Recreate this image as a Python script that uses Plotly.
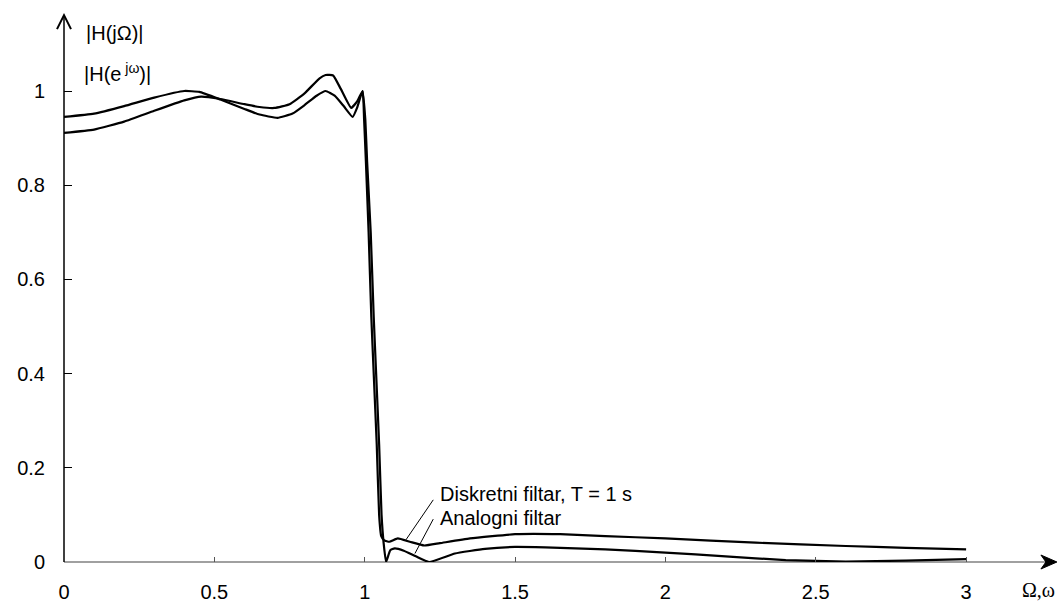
import plotly.graph_objects as go

# Analog filter (elliptic) magnitude response
omega_analog = [0.0, 0.1, 0.2, 0.3, 0.4, 0.45, 0.52, 0.6, 0.65, 0.71, 0.76, 0.8, 0.84, 0.87,
                0.9, 0.93, 0.96, 0.975, 0.993, 1.002, 1.008, 1.02, 1.03, 1.038, 1.048, 1.056,
                1.063, 1.071, 1.085, 1.1, 1.13, 1.17, 1.214, 1.3, 1.4, 1.5, 1.6, 1.8, 2.0,
                2.2, 2.4, 2.6, 2.8, 3.0]
mag_analog = [0.945, 0.952, 0.968, 0.986, 1.0, 0.998, 0.982, 0.962, 0.95, 0.943, 0.952, 0.97,
              0.99, 1.0, 0.99, 0.968, 0.945, 0.965, 1.0, 0.94, 0.85, 0.7, 0.52, 0.40, 0.25,
              0.10, 0.04, 0.0, 0.025, 0.029, 0.024, 0.012, 0.0, 0.018, 0.028, 0.032, 0.031,
              0.027, 0.02, 0.012, 0.004, 0.001, 0.003, 0.006]

# Discrete filter (T = 1 s) magnitude response
omega_discrete = [0.0, 0.1, 0.2, 0.3, 0.4, 0.456, 0.52, 0.6, 0.65, 0.70, 0.75, 0.8, 0.85,
                  0.87, 0.895, 0.92, 0.955, 0.975, 0.993, 0.998, 1.004, 1.013, 1.022, 1.03,
                  1.04, 1.048, 1.055, 1.065, 1.082, 1.11, 1.15, 1.198, 1.25, 1.35, 1.5, 1.65,
                  1.8, 2.0, 2.3, 2.6, 2.8, 3.0]
mag_discrete = [0.911, 0.918, 0.935, 0.958, 0.980, 0.988, 0.983, 0.972, 0.966, 0.964, 0.972,
                0.995, 1.027, 1.034, 1.033, 1.005, 0.964, 0.978, 1.0, 0.94, 0.85, 0.7, 0.52,
                0.40, 0.25, 0.10, 0.055, 0.046, 0.043, 0.05, 0.043, 0.035, 0.040, 0.050,
                0.059, 0.059, 0.055, 0.050, 0.041, 0.034, 0.030, 0.027]

x_ticks = [0, 0.5, 1, 1.5, 2, 2.5, 3]
x_tick_labels = ["0", "0.5", "1", "1.5", "2", "2.5", "3"]
y_ticks = [0, 0.2, 0.4, 0.6, 0.8, 1]
y_tick_labels = ["0", "0.2", "0.4", "0.6", "0.8", "1"]

FONT = "Liberation Sans, Arial, sans-serif"
SERIF = "Liberation Serif, Times New Roman, serif"
FS = 20

W, H = 1059, 603
ML, MT, MB, MR = 64, 14, 41, 0
PW, PH = W - ML - MR, H - MT - MB
XMAX = PW / 300.7
YMAX = PH / 471.0


def px(xp):  # window pixel -> paper x
    return (xp - ML) / PW


def py(yp):  # window pixel -> paper y
    return (H - MB - yp) / PH


fig = go.Figure()
fig.add_trace(go.Scatter(x=omega_discrete, y=mag_discrete, mode="lines",
                         line=dict(color="black", width=2.2, shape="spline", smoothing=0.4),
                         name="Diskretni filtar"))
fig.add_trace(go.Scatter(x=omega_analog, y=mag_analog, mode="lines",
                         line=dict(color="black", width=2.2, shape="spline", smoothing=0.4),
                         name="Analogni filtar"))

y_tip = 1.161 / YMAX
x_tip = 3.302 / XMAX
shapes = [
    # y axis line
    dict(type="line", xref="paper", yref="paper", x0=0, x1=0, y0=0, y1=y_tip,
         line=dict(color="black", width=1.5), layer="above"),
    # x axis line
    dict(type="line", xref="paper", yref="paper", x0=0, x1=x_tip - 0.005, y0=0, y1=0,
         line=dict(color="#808080", width=1.5), layer="below"),
    # y arrow head (chevron)
    dict(type="path", xref="paper", yref="paper", xsizemode="pixel", ysizemode="pixel",
         xanchor=0, yanchor=y_tip, path="M -7,-14 L 0,0 L 7,-14",
         line=dict(color="black", width=2)),
    # x arrow head (filled stealth)
    dict(type="path", xref="paper", yref="paper", xsizemode="pixel", ysizemode="pixel",
         xanchor=x_tip, yanchor=0, path="M -16,7 L 0,0 L -16,-7 L -11,0 Z",
         fillcolor="black", line=dict(color="black", width=1)),
    # leader lines
    dict(type="line", xref="x", yref="y", x0=1.228, y0=0.132, x1=1.137, y1=0.047,
         line=dict(color="black", width=1)),
    dict(type="line", xref="x", yref="y", x0=1.228, y0=0.091, x1=1.167, y1=0.018,
         line=dict(color="black", width=1)),
]

fig.update_layout(
    width=W, height=H,
    margin=dict(l=ML, r=MR, t=MT, b=MB, autoexpand=False),
    paper_bgcolor="white", plot_bgcolor="white",
    showlegend=False,
    hovermode=False,
    shapes=shapes,
    font=dict(family=FONT, size=FS, color="black"),
    xaxis=dict(range=[0, XMAX], tickvals=x_ticks, ticktext=x_tick_labels,
               ticks="inside", ticklen=5, tickcolor="#555555", tickwidth=1,
               showgrid=False, zeroline=False, showline=False,
               ticklabelstandoff=16, tickfont=dict(family=FONT, size=FS)),
    yaxis=dict(range=[0, YMAX], tickvals=y_ticks, ticktext=y_tick_labels,
               ticks="inside", ticklen=8, tickcolor="black", tickwidth=1,
               showgrid=False, zeroline=False, showline=False,
               ticklabelstandoff=18, tickfont=dict(family=FONT, size=FS)),
)

fig.add_annotation(x=px(84), y=py(33), xref="paper", yref="paper", text="|H(jΩ)|",
                   showarrow=False, xanchor="left", yanchor="middle",
                   font=dict(family=FONT, size=FS, color="black"))
fig.add_annotation(x=px(82), y=py(72), xref="paper", yref="paper",
                   text="|H(e<sup> jω</sup>)|",
                   showarrow=False, xanchor="left", yanchor="middle",
                   font=dict(family=FONT, size=FS, color="black"))
fig.add_annotation(x=px(1038), y=py(590), xref="paper", yref="paper", text="Ω,ω",
                   showarrow=False, xanchor="center", yanchor="middle",
                   font=dict(family=SERIF, size=FS, color="black"))
fig.add_annotation(x=px(438), y=py(494), xref="paper", yref="paper",
                   text="Diskretni filtar, T = 1 s", showarrow=False,
                   xanchor="left", yanchor="middle",
                   font=dict(family=FONT, size=FS, color="black"))
fig.add_annotation(x=px(438), y=py(518), xref="paper", yref="paper",
                   text="Analogni filtar", showarrow=False,
                   xanchor="left", yanchor="middle",
                   font=dict(family=FONT, size=FS, color="black"))

fig.write_html("out.html", config={"displayModeBar": False, "staticPlot": True},
               post_script="document.body.style.margin='0';document.body.style.overflow='hidden';")
